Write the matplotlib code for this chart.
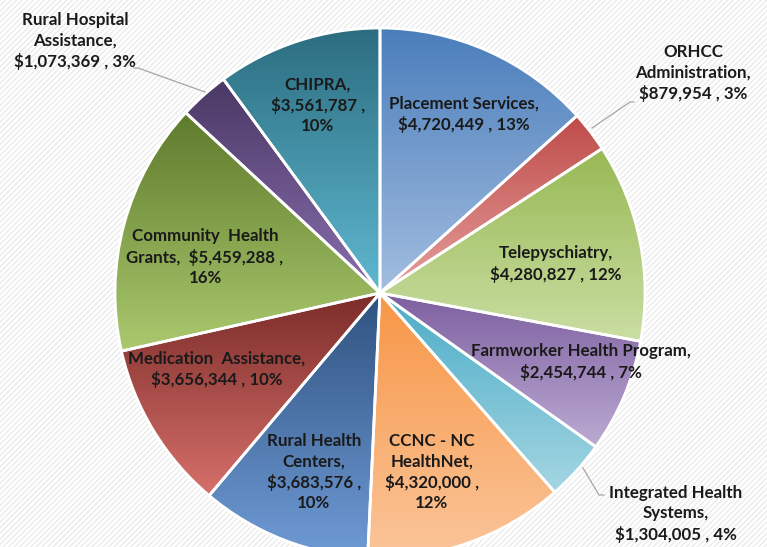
import numpy as np
import matplotlib.pyplot as plt
import matplotlib.colors as mcolors
from matplotlib.patches import Rectangle

plt.rcParams['font.family'] = ['Lato', 'DejaVu Sans']
plt.rcParams['hatch.linewidth'] = 1.0

# Budget by program, clockwise from 12 o'clock
programs = ['Placement Services', 'ORHCC Administration', 'Telepyschiatry',
            'Farmworker Health Program', 'Integrated Health Systems',
            'CCNC - NC HealthNet', 'Rural Health Centers', 'Medication Assistance',
            'Community Health Grants', 'Rural Hospital Assistance', 'CHIPRA']
amounts = [4720449, 879954, 4280827, 2454744, 1304005,
           4320000, 3683576, 3656344, 5459288, 1073369, 3561787]
label_texts = [
    'Placement Services,\n$4,720,449 , 13%',
    'ORHCC\nAdministration,\n$879,954 , 3%',
    'Telepyschiatry,\n$4,280,827 , 12%',
    'Farmworker Health Program,\n$2,454,744 , 7%',
    'Integrated Health\nSystems,\n$1,304,005 , 4%',
    'CCNC - NC\nHealthNet,\n$4,320,000 ,\n12%',
    'Rural Health\nCenters,\n$3,683,576 ,\n10%',
    'Medication  Assistance,\n$3,656,344 , 10%',
    'Community  Health\nGrants,  $5,459,288 ,\n16%',
    'Rural Hospital\nAssistance,\n$1,073,369 , 3%',
    'CHIPRA,\n$3,561,787 ,\n10%',
]
# gradient colours (top -> bottom) per wedge
grad_top = ['#4a7ebb', '#be4b48', '#98b954', '#7d60a0', '#4bacc6', '#f79646',
            '#2f527f', '#7b2c29', '#5e7a2c', '#4a3865', '#2c6d80']
grad_bot = ['#a3bde0', '#e6a09e', '#cadea3', '#bcaad3', '#a4d6e3', '#fbc59a',
            '#6f9bd6', '#d7706b', '#abc96e', '#8a6fae', '#5fb8d0']

W, H = 767, 547
fig = plt.figure(figsize=(W / 100, H / 100), dpi=100)
ax = fig.add_axes([0, 0, 1, 1])

# striped background
ax.add_patch(Rectangle((0, 0), W, H, facecolor='white', edgecolor='#ebebeb',
                       hatch='//////', linewidth=0, zorder=0))

cx, cy, r = 380, H - 293, 265
wedges, _ = ax.pie(amounts, startangle=90, counterclock=False, center=(cx, cy),
                   radius=r, frame=True,
                   wedgeprops=dict(edgecolor='white', linewidth=2))

for w, c0, c1 in zip(wedges, grad_top, grad_bot):
    w.set_facecolor('none')
    w.set_zorder(3)
    bb = w.get_path().get_extents()
    cmap = mcolors.LinearSegmentedColormap.from_list('g', [c1, c0])
    grad = np.linspace(0, 1, 256).reshape(-1, 1)
    im = ax.imshow(grad, cmap=cmap, origin='lower', aspect='auto',
                   extent=(bb.x0, bb.x1, bb.y0, bb.y1), zorder=2)
    im.set_clip_path(w)

ax.set_xlim(0, W)
ax.set_ylim(0, H)
ax.set_aspect('equal')
ax.axis('off')

# label centres in pixel coords (x, y from top)
label_pos = [(464, 114), (693, 73), (556, 264), (581, 362), (676, 514),
             (432, 472), (314, 472), (217, 369), (205, 257), (75, 41), (318, 105)]
for txt, (x, y) in zip(label_texts, label_pos):
    ax.text(x, H - y, txt, ha='center', va='center', fontsize=12.2,
            fontweight='bold', color='#1a1a1a', linespacing=1.3, zorder=5)

# leader lines
leaders = [
    [(205, 92), (138, 68), (134, 68)],
    [(592, 128), (630, 102), (634, 102)],
    [(583, 468), (599, 495), (604, 495)],
]
for pts in leaders:
    xs = [p[0] for p in pts]
    ys = [H - p[1] for p in pts]
    ax.plot(xs, ys, color='#a6a6a6', lw=0.9, zorder=4)

fig.savefig('out.png', dpi=100)
